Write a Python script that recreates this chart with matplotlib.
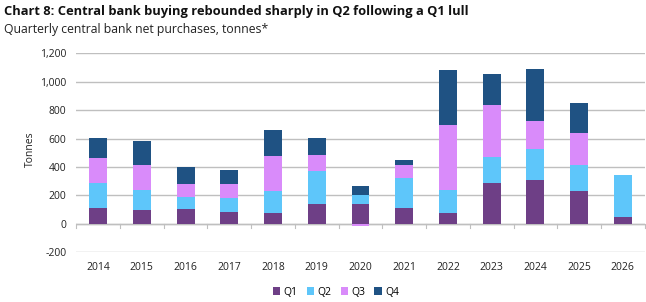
import numpy as np
import matplotlib.pyplot as plt

plt.rcParams['font.family'] = ['Open Sans', 'DejaVu Sans']

years = ['2014', '2015', '2016', '2017', '2018', '2019', '2020',
         '2021', '2022', '2023', '2024', '2025', '2026']
q1 = [114, 100, 107, 86, 79, 142, 138, 114, 79, 288, 311, 234, 51]
q2 = [171, 141, 84, 98, 155, 232, 63, 211, 162, 180, 213, 177, 295]
q3 = [180, 175, 92, 99, 243, 112, -12, 89, 456, 367, 199, 230, 0]
q4 = [136, 164, 115, 98, 183, 120, 68, 37, 386, 220, 367, 211, 0]

series = [('Q1', q1, '#6E3F86'), ('Q2', q2, '#5EC6FA'),
          ('Q3', q3, '#D98BFA'), ('Q4', q4, '#1F5283')]

fig = plt.figure(figsize=(6.46, 3.02), dpi=100)
ax = fig.add_axes([0.118, 0.1646, 0.88, 0.659])

x = np.arange(len(years))
pos = np.zeros(len(years))
neg = np.zeros(len(years))
for name, vals, col in series:
    v = np.array(vals, dtype=float)
    bottom = np.where(v >= 0, pos, neg)
    ax.bar(x, v, 0.41, bottom=bottom, color=col, label=name, zorder=3)
    pos = pos + np.clip(v, 0, None)
    neg = neg + np.clip(v, None, 0)

ax.set_xlim(-0.5, len(years) - 0.5)
ax.set_ylim(-200, 1200)
ax.set_yticks(range(-200, 1201, 200))
ax.set_yticklabels([f'{t:,}' for t in range(-200, 1201, 200)])
ax.yaxis.grid(True, color='#BFBFBF', linewidth=1, zorder=0)
ax.tick_params(axis='y', length=0, labelsize=7.5, colors='#222222', pad=7)

ax.set_xticks(x)
ax.set_xticklabels(years)
ax.tick_params(axis='x', length=0, labelsize=7.5, colors='#222222', pad=7)
# zero line with category tick marks
ax.axhline(0, color='#BFBFBF', linewidth=1, zorder=2)
for b in np.arange(-0.5, len(years), 1.0):
    ax.plot([b, b], [0, -30], color='#BFBFBF', linewidth=0.8, zorder=2, clip_on=False)

for s in ax.spines.values():
    s.set_visible(False)

ax.set_ylabel('Tonnes', fontsize=7.5, color='#222222', labelpad=3)
ax.yaxis.set_label_coords(-0.07, 0.52)

fig.text(0.006, 0.962, 'Chart 8: Central bank buying rebounded sharply in Q2 following a Q1 lull',
         fontsize=9.3, fontweight='bold', va='center', ha='left', color='#111111')
fig.text(0.006, 0.903, 'Quarterly central bank net purchases, tonnes*',
         fontsize=8.8, va='center', ha='left', color='#222222')

fig.legend(loc='center', bbox_to_anchor=(0.52, 0.033), ncol=4, frameon=False,
           fontsize=7.5, handlelength=0.7, handleheight=0.7, handletextpad=0.3,
           columnspacing=0.9)

fig.savefig('out.png', dpi=100)
